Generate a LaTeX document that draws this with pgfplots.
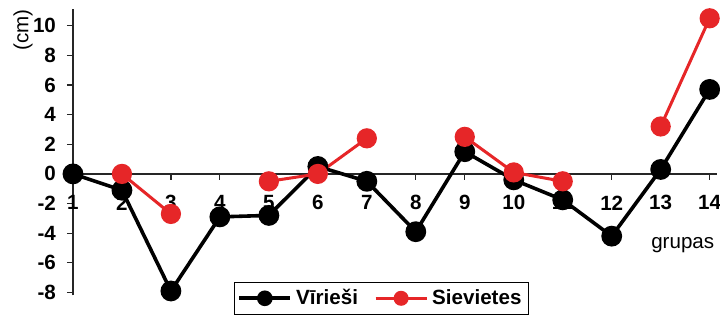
\documentclass[border=0pt]{standalone}
\usepackage{fontspec}
\setmainfont{Liberation Sans}
\usepackage{pgfplots}
\pgfplotsset{compat=1.18}
\definecolor{sred}{RGB}{230,38,40}

\begin{document}
\begin{tikzpicture}
\begin{axis}[
    name=ax,
    scale only axis,
    width=322.2pt, height=143.1pt,
    xmin=1, xmax=14.15,
    ymin=-8.2, ymax=11.1,
    axis x line*=middle, axis y line*=left,
    axis line style={line width=0.6pt, black!85},
    xtick={1,...,14},
    ytick={-8,-6,...,10},
    hide obscured x ticks=false,
    tick align=outside,
    major tick length=3pt,
    tick style={black!85, line width=0.6pt},
    /pgf/number format/assume math mode=true,
    ticklabel style={font=\bfseries\fontsize{10.3}{12}\selectfont},
    xticklabel style={anchor=center, yshift=-11.5pt},
    yticklabel style={xshift=-2pt},
    clip=false,
    legend columns=2,
    legend style={at={(0.479,-0.01)}, anchor=center, draw=black,
        font=\bfseries\fontsize{10.3}{12}\selectfont,
        inner sep=1.5pt,
        /tikz/every even column/.append style={column sep=6pt}},
    legend image code/.code={
        \draw[mark repeat=2, mark phase=2, #1, mark size=3pt]
        plot coordinates {(0cm,0cm) (0.45cm,0cm) (0.9cm,0cm)};},
]
% men
\addplot[black, line width=1.8pt, mark=*, mark size=4.3pt]
coordinates {
    (1,0)(2,-1.1)(3,-7.9)(4,-2.9)(5,-2.8)(6,0.5)(7,-0.5)
    (8,-3.9)(9,1.5)(10,-0.4)(11,-1.75)(12,-4.2)(13,0.3)(14,5.7)};
\addlegendentry{Vīrieši}
% women
\addplot[sred, line width=1.5pt, mark=*, mark size=4.3pt, unbounded coords=jump]
coordinates {
    (2,0)(3,-2.7)(4,nan)(5,-0.5)(6,0)(7,2.4)(8,nan)
    (9,2.5)(10,0.1)(11,-0.5)(12,nan)(13,3.2)(14,10.5)};
\addlegendentry{Sievietes}
\node[font=\fontsize{10.3}{12}\selectfont] at (axis cs:13.45,-4.8) {grupas};
\node[rotate=90, font=\fontsize{10.3}{12}\selectfont] at (axis cs:-0.02,9.7) {(cm)};
\end{axis}
\pgfresetboundingbox
\path ([shift={(-36.5pt,-12.2pt)}]ax.south west) rectangle ([shift={(1.5pt,4.7pt)}]ax.north east);
\end{tikzpicture}
\end{document}
